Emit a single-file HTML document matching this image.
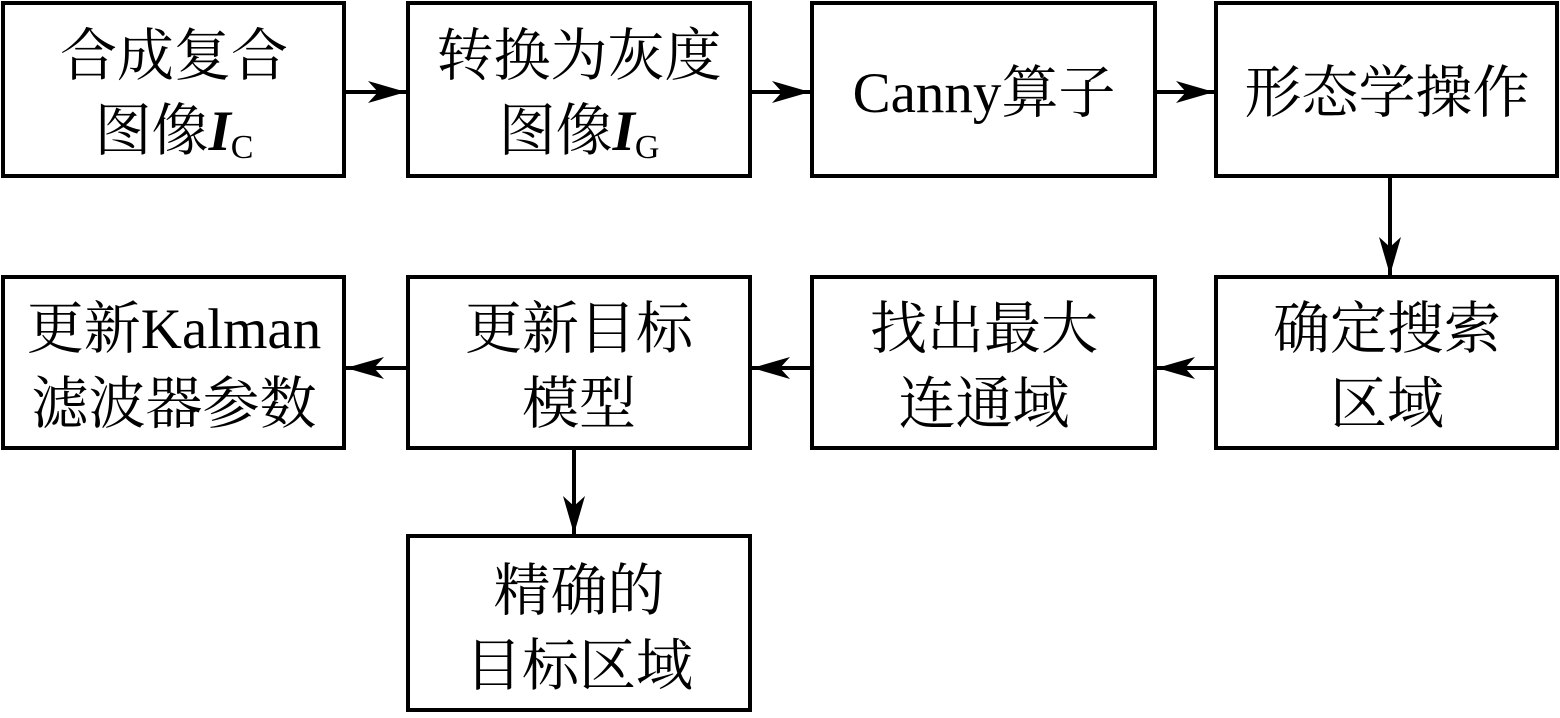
<!DOCTYPE html>
<html><head><meta charset="utf-8"><style>
html,body{margin:0;padding:0;background:#fff;}
svg text{font-family:"Liberation Serif","Noto Serif CJK SC",serif;font-size:57px;fill:#000;text-anchor:middle;}
</style></head><body>
<svg width="1560" height="713" viewBox="0 0 1560 713" xmlns="http://www.w3.org/2000/svg">
<defs><marker id="a" markerWidth="40" markerHeight="22" refX="38" refY="11" orient="auto" markerUnits="userSpaceOnUse"><path d="M0,0 L38,11 L0,22 L10,11 Z" fill="#000"/></marker></defs>
<g fill="none" stroke="#000" stroke-width="4">
<rect x="3" y="3" width="341" height="173"/>
<rect x="408" y="3" width="342" height="173"/>
<rect x="812" y="3" width="343" height="173"/>
<rect x="1216" y="3" width="341" height="173"/>
<rect x="3" y="277" width="341" height="171"/>
<rect x="408" y="277" width="342" height="171"/>
<rect x="812" y="277" width="343" height="171"/>
<rect x="1216" y="277" width="341" height="171"/>
<rect x="408" y="536" width="342" height="174"/>
<line x1="345" y1="92" x2="406" y2="92" marker-end="url(#a)"/>
<line x1="751" y1="92" x2="810" y2="92" marker-end="url(#a)"/>
<line x1="1156" y1="92" x2="1214" y2="92" marker-end="url(#a)"/>
<line x1="1390" y1="177" x2="1390" y2="275" marker-end="url(#a)"/>
<line x1="1215" y1="368" x2="1157" y2="368" marker-end="url(#a)"/>
<line x1="811" y1="368" x2="752" y2="368" marker-end="url(#a)"/>
<line x1="407" y1="368" x2="346" y2="368" marker-end="url(#a)"/>
<line x1="574" y1="449" x2="574" y2="534" marker-end="url(#a)"/>
</g>
<text x="174" y="75">合成复合</text>
<text x="174" y="150">图像<tspan font-style="italic" font-weight="bold">I</tspan><tspan font-size="34" dy="8">C</tspan></text>
<text x="579" y="75">转换为灰度</text>
<text x="579" y="150">图像<tspan font-style="italic" font-weight="bold">I</tspan><tspan font-size="34" dy="8">G</tspan></text>
<text x="984" y="112">Canny算子</text>
<text x="1387" y="112">形态学操作</text>
<text x="1387" y="348">确定搜索</text>
<text x="1387" y="423">区域</text>
<text x="984" y="348">找出最大</text>
<text x="984" y="423">连通域</text>
<text x="579" y="348">更新目标</text>
<text x="579" y="423">模型</text>
<text x="174" y="348">更新Kalman</text>
<text x="174" y="423">滤波器参数</text>
<text x="579" y="610">精确的</text>
<text x="579" y="685">目标区域</text>
</svg>
</body></html>
